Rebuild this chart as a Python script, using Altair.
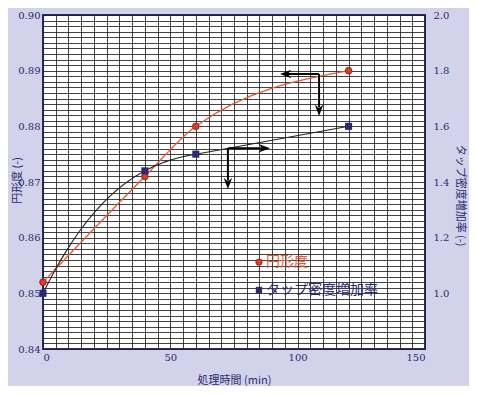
import altair as alt
import pandas as pd

# ---- data ----
time_min = [0, 40, 60, 120]
circularity = [0.852, 0.871, 0.880, 0.890]          # left axis
tap_density_ratio = [1.00, 1.44, 1.50, 1.60]        # right axis

x_ticks = [0, 50, 100, 150]
left_labels = [0.84, 0.85, 0.86, 0.87, 0.88, 0.89, 0.90]
right_labels = [1.0, 1.2, 1.4, 1.6, 1.8, 2.0]

# arrow annotations (data coordinates)
red_arrow_corner = (108.4, 0.8894)
red_arrow_left_end = 93.1
red_arrow_down_end = 0.8819
blk_arrow_corner = (72.6, 1.521)
blk_arrow_right_end = 89.1
blk_arrow_down_end = 1.375

# legend positions (left-axis data coordinates)
legend_x = 84.8
legend_y = [0.8556, 0.8506]
legend_names = ["円形度", "タップ密度増加率"]

NAVY = "#2a2a72"
RED = "#e25a34"
BG = "#d2d2ea"

x_grid_vals = list(range(0, 151, 5))
y_grid_vals = [round(0.84 + i * 0.001, 3) for i in range(61)]

xscale = alt.Scale(domain=[0, 150], nice=False, zero=False)
lscale = alt.Scale(domain=[0.84, 0.90], nice=False, zero=False)
rscale = alt.Scale(domain=[0.8, 2.0], nice=False, zero=False)

xaxis = alt.Axis(values=x_grid_vals, grid=True, ticks=False, domain=False,
                 labelExpr="datum.value % 50 == 0 ? datum.label : ''",
                 title="処理時間 (min)", labelPadding=3,
                 titleX=191, titleY=31, titleBaseline="middle", titleAlign="center",
                 labelAngle=0)
laxis = alt.Axis(values=y_grid_vals, grid=True, ticks=False, domain=False,
                 labelExpr="abs(datum.value*100 - round(datum.value*100)) < 0.01 ? format(datum.value, '.2f') : ''",
                 title="円形度 (-)", labelPadding=3,
                 titleX=-26, titleY=165, titleBaseline="middle", titleAlign="center", titleAngle=270)
raxis = alt.Axis(values=right_labels, grid=False, ticks=False, domain=False,
                 format=".1f", orient="right", title="タップ密度増加率 (-)",
                 labelPadding=8,
                 titleX=34, titleY=180, titleBaseline="middle", titleAlign="center", titleAngle=90)

def X(field="x"):
    return alt.X(field, type="quantitative", scale=xscale, axis=xaxis)

def YL(field="y"):
    return alt.Y(field, type="quantitative", scale=lscale, axis=laxis)

def YR(field="y"):
    return alt.Y(field, type="quantitative", scale=rscale, axis=raxis)

df = pd.DataFrame({"x": time_min, "circ": circularity, "tap": tap_density_ratio})

arrow_path = "M1,0 L-1,-0.75 L-0.35,0 L-1,0.75 Z"

# ---- left-axis layers ----
red_line = alt.Chart(df).mark_line(color=RED, strokeWidth=1.3, interpolate="monotone").encode(
    x=X(), y=YL("circ"))
red_pts = alt.Chart(df).mark_point(shape="circle", filled=True, size=45, color="#e03a22",
                                   stroke="#8a1a10", strokeWidth=0.8, opacity=1).encode(
    x=X(), y=YL("circ"))

red_rules_df = pd.DataFrame({
    "x": [red_arrow_corner[0], red_arrow_corner[0]],
    "x2": [red_arrow_left_end + 3, red_arrow_corner[0]],
    "y": [red_arrow_corner[1], red_arrow_corner[1]],
    "y2": [red_arrow_corner[1], red_arrow_down_end + 0.0015],
})
red_rules = alt.Chart(red_rules_df).mark_rule(color="black", strokeWidth=2).encode(
    x=X(), x2="x2", y=YL(), y2="y2")
red_heads_df = pd.DataFrame({
    "x": [red_arrow_left_end + 2.2, red_arrow_corner[0]],
    "y": [red_arrow_corner[1], red_arrow_down_end + 0.001],
    "ang": [180, 90],
})
red_heads = alt.Chart(red_heads_df).mark_point(shape=arrow_path, filled=True, size=130,
                                               color="black", opacity=1).encode(
    x=X(), y=YL(), angle=alt.Angle("ang:Q", scale=None))

leg_df = pd.DataFrame({"x": [legend_x] * 2, "y": legend_y, "name": legend_names})
leg_circle = alt.Chart(leg_df.iloc[[0]]).mark_point(shape="circle", filled=True, size=40,
                                                    color="#e03a22", stroke="#8a1a10",
                                                    strokeWidth=0.8, opacity=1).encode(
    x=X(), y=YL())
leg_square = alt.Chart(leg_df.iloc[[1]]).mark_point(shape="square", filled=True, size=40,
                                                    color=NAVY, opacity=1).encode(
    x=X(), y=YL())
leg_text = alt.Chart(leg_df).mark_text(align="left", baseline="middle", dx=7, fontSize=14,
                                       font="Noto Sans CJK JP").encode(
    x=X(), y=YL(), text="name:N",
    color=alt.Color("name:N", scale=alt.Scale(domain=legend_names, range=[RED, NAVY]), legend=None))

left = alt.layer(red_line, red_rules, red_heads, red_pts, leg_circle, leg_square, leg_text)

# ---- right-axis layers ----
# smooth rise over the first part (cubic through all points, drawn 0-60), then straight to 120
blk_curve = alt.Chart(df).transform_regression(
    "x", "tap", method="poly", order=3, extent=[0, 60]
).mark_line(color="#222222", strokeWidth=1.1).encode(x=X(), y=YR("tap"))
blk_tail = alt.Chart(df).transform_filter("datum.x >= 60").mark_line(
    color="#222222", strokeWidth=1.1).encode(x=X(), y=YR("tap"))
blk_pts = alt.Chart(df).mark_point(shape="square", filled=True, size=50, color=NAVY, opacity=1).encode(
    x=X(), y=YR("tap"))
blk_rules_df = pd.DataFrame({
    "x": [blk_arrow_corner[0], blk_arrow_corner[0]],
    "x2": [blk_arrow_right_end - 3, blk_arrow_corner[0]],
    "y": [blk_arrow_corner[1], blk_arrow_corner[1]],
    "y2": [blk_arrow_corner[1], blk_arrow_down_end + 0.03],
})
blk_rules = alt.Chart(blk_rules_df).mark_rule(color="black", strokeWidth=2).encode(
    x=X(), x2="x2", y=YR(), y2="y2")
blk_heads_df = pd.DataFrame({
    "x": [blk_arrow_right_end - 2.2, blk_arrow_corner[0]],
    "y": [blk_arrow_corner[1], blk_arrow_down_end + 0.02],
    "ang": [0, 90],
})
blk_heads = alt.Chart(blk_heads_df).mark_point(shape=arrow_path, filled=True, size=130,
                                               color="black", opacity=1).encode(
    x=X(), y=YR(), angle=alt.Angle("ang:Q", scale=None))

right = alt.layer(blk_curve, blk_tail, blk_rules, blk_heads, blk_pts)

chart = alt.layer(left, right).resolve_scale(y="independent").properties(
    width=382, height=334,
    autosize=alt.AutoSizeParams(type="none"),
    padding={"left": 35, "top": 7, "right": 44, "bottom": 37},
    background=BG,
).configure_view(
    stroke=NAVY, strokeWidth=2, fill="white"
).configure_axis(
    gridColor="#222222", gridWidth=1, gridOpacity=0.85,
    labelFont="DejaVu Serif", labelFontSize=10, labelColor=NAVY,
    titleFont="Noto Sans CJK JP", titleFontSize=11, titleColor=NAVY,
    titleFontWeight="normal",
)

chart.save("out.html", embed_options={"renderer": "svg", "actions": False})
